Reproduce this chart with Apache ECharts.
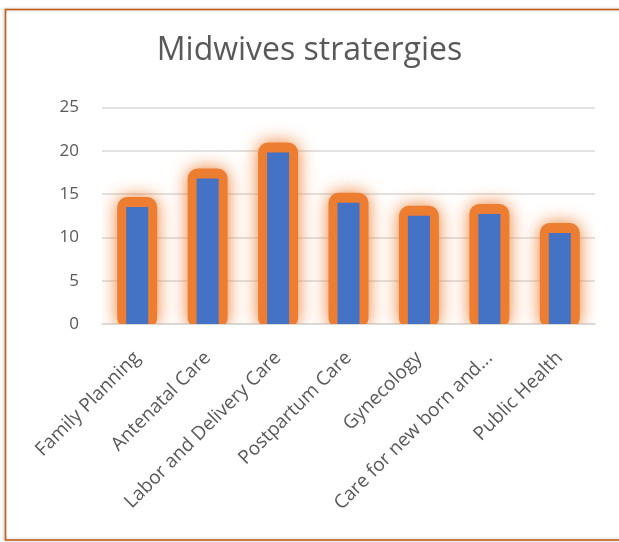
<!DOCTYPE html>
<html>
<head>
<meta charset="utf-8">
<script src="https://cdn.jsdelivr.net/npm/echarts@6/dist/echarts.min.js"></script>
<style>html,body{margin:0;padding:0;background:#fff;}#c{width:619px;height:542px;}</style>
</head>
<body>
<div id="c"></div>
<script>
var titleText = 'Midwives stratergies';
var categories = ['Family Planning', 'Antenatal Care', 'Labor and Delivery Care', 'Postpartum Care', 'Gynecology', 'Care for new born and...', 'Public Health'];
var values = [13.5, 16.8, 19.8, 14.0, 12.5, 12.7, 10.5];
var yTicks = [0, 5, 10, 15, 20, 25];

var font = 'Open Sans';
var glowData = values.map(function (v, i) { return [i, v]; });
var chart = echarts.init(document.getElementById('c'));
chart.setOption({
  animation: false,
  backgroundColor: '#ffffff',
  title: {
    text: titleText,
    left: 'center',
    top: 30,
    textStyle: { fontFamily: font, fontSize: 32, fontWeight: 'normal', color: '#595959' }
  },
  graphic: [{
    type: 'rect',
    shape: { x: 5.5, y: 9.5, width: 700, height: 530.5 },
    style: { fill: null, stroke: '#C55A11', lineWidth: 1.5, shadowBlur: 3, shadowColor: 'rgba(0,0,0,0.3)', shadowOffsetX: -1 },
    z: 100
  }],
  grid: { left: 102, right: 24, top: 107.5, bottom: 218 },
  xAxis: {
    type: 'category',
    data: categories,
    axisLine: { show: true, lineStyle: { color: '#D9D9D9', width: 1.5 } },
    axisTick: { show: false },
    axisLabel: { rotate: 45, interval: 0, margin: 31, fontFamily: font, fontSize: 19, color: '#595959' }
  },
  yAxis: {
    type: 'value',
    min: yTicks[0],
    max: yTicks[yTicks.length - 1],
    interval: 5,
    axisLine: { show: false },
    axisTick: { show: false },
    axisLabel: { fontFamily: font, fontSize: 17, color: '#595959', margin: 23 },
    splitLine: { lineStyle: { color: '#D9D9D9', width: 1.5 } }
  },
  series: [{
    type: 'custom',
    data: glowData,
    encode: { x: 0, y: 1 },
    clip: true,
    silent: true,
    renderItem: function (params, api) {
      var top = api.coord([api.value(0), api.value(1)]);
      var base = api.coord([api.value(0), 0]);
      return {
        type: 'rect',
        shape: { x: top[0] - 20, y: top[1] - 10, width: 40, height: base[1] - top[1] + 14, r: 10 },
        style: { fill: '#ED7D31', shadowBlur: 18, shadowColor: '#ED7D31' }
      };
    }
  }, {
    type: 'bar',
    data: values,
    barWidth: 22,
    itemStyle: { color: '#4472C4' },
    silent: true
  }]
});
</script>
</body>
</html>
